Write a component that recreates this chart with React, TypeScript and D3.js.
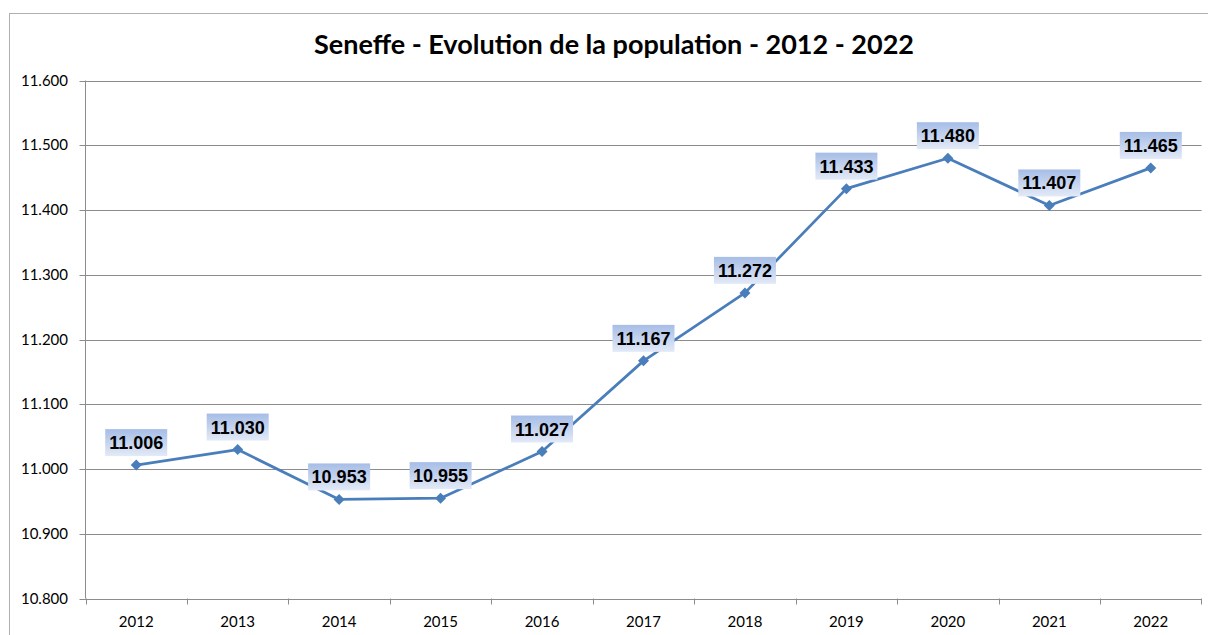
import React from "react";
import * as d3 from "d3";

const years = ["2012", "2013", "2014", "2015", "2016", "2017", "2018", "2019", "2020", "2021", "2022"];
const population = [11006, 11030, 10953, 10955, 11027, 11167, 11272, 11433, 11480, 11407, 11465];
const yTicks = [10800, 10900, 11000, 11100, 11200, 11300, 11400, 11500, 11600];
const title = "Seneffe - Evolution de la population - 2012 - 2022";

const fmt = (v: number) => {
  const s = String(v);
  return s.slice(0, s.length - 3) + "." + s.slice(s.length - 3);
};

export default function App() {
  const W = 1208, H = 635;
  const left = 85.5, right = 1201.5, top = 80.5, bottom = 598.5;
  const x = d3.scaleBand<string>().domain(years).range([left, right]);
  const y = d3.scaleLinear().domain([10800, 11600]).range([bottom, top]);
  const cx = (d: string) => (x(d) as number) + x.bandwidth() / 2;
  const line = d3.line<number>().x((_, i) => cx(years[i])).y((v) => y(v));
  const labelFont = "Liberation Sans, Arial, sans-serif";
  const axisFont = "Lato, 'Open Sans', sans-serif";
  return (
    <svg width={W} height={H} style={{ position: "absolute", left: 0, top: 0, background: "#fff" }}>
      <defs>
        <linearGradient id="lbl" x1="0" y1="0" x2="0" y2="1">
          <stop offset="0" stopColor="#a6bde6" />
          <stop offset="1" stopColor="#e3eaf7" />
        </linearGradient>
      </defs>
      <rect x={0} y={0} width={W} height={H} fill="#fff" />
      <rect x={9.5} y={13.5} width={1240} height={700} fill="none" stroke="#b0b0b0" strokeWidth={1} />
      <text x={614} y={54} textAnchor="middle" fontFamily={"Lato, sans-serif"} fontWeight="bold" fontSize={27} fill="#000">
        {title}
      </text>
      {yTicks.map((t) => (
        <g key={t}>
          <line x1={left - 6} x2={right} y1={Math.round(y(t)) + 0.5} y2={Math.round(y(t)) + 0.5} stroke="#8c8c8c" strokeWidth={1} />
          <text x={68} y={y(t) + 5} textAnchor="end" fontFamily={axisFont} fontSize={15} fill="#000">
            {fmt(t)}
          </text>
        </g>
      ))}
      <line x1={left} x2={left} y1={top} y2={bottom} stroke="#8c8c8c" strokeWidth={1} />
      {years.map((yr, i) => (
        <g key={yr}>
          <line x1={Math.round(x(yr) as number) + 0.5} x2={Math.round(x(yr) as number) + 0.5} y1={bottom} y2={bottom + 6} stroke="#8c8c8c" />
          <text x={cx(yr)} y={627} textAnchor="middle" fontFamily={axisFont} fontSize={15} fill="#000">
            {yr}
          </text>
        </g>
      ))}
      <line x1={right} x2={right} y1={bottom} y2={bottom + 6} stroke="#8c8c8c" />
      <path d={line(population) || ""} fill="none" stroke="#4a7ebb" strokeWidth={2.75} strokeLinejoin="round" />
      {population.map((v, i) => {
        const px = cx(years[i]), py = y(v);
        return (
          <path key={"m" + i} d={`M${px},${py - 5.5}L${px + 5.5},${py}L${px},${py + 5.5}L${px - 5.5},${py}Z`} fill="#4a7ebb" />
        );
      })}
      {population.map((v, i) => {
        const px = cx(years[i]), py = y(v);
        const bw = 62, bh = 27;
        const by = py - 36;
        return (
          <g key={"l" + i}>
            <rect x={px - bw / 2} y={by} width={bw} height={bh} fill="url(#lbl)" />
            <text x={px} y={by + 20} textAnchor="middle" fontFamily={labelFont} fontWeight="bold" fontSize={18} fill="#000">
              {fmt(v)}
            </text>
          </g>
        );
      })}
    </svg>
  );
}
